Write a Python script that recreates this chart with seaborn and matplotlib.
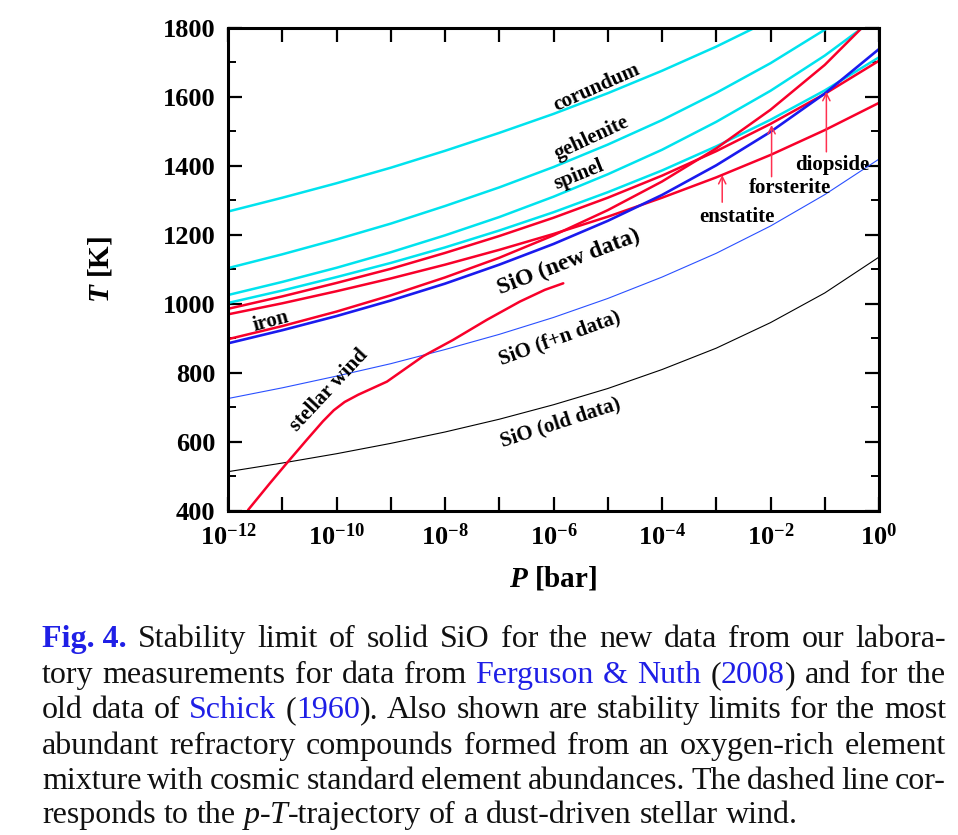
import re
import math
import matplotlib
matplotlib.use("Agg")
import matplotlib.pyplot as plt
import seaborn as sns
from matplotlib.ticker import FixedLocator, MultipleLocator, FuncFormatter, NullLocator

# ---- data ------------------------------------------------------------
# pressure grid, decades of P [bar]
log_p = [-12, -11, -10, -9, -8, -7, -6, -5, -4, -3, -2, -1, 0]

# stability limits T [K] at each decade
t_corundum = [1268, 1308, 1350, 1395, 1444, 1496, 1551, 1611, 1676, 1746, 1823, 1906, 1998]
t_gehlenite = [1104, 1144, 1187, 1233, 1284, 1338, 1397, 1462, 1533, 1612, 1698, 1795, 1903]
t_spinel = [1026, 1064, 1105, 1150, 1199, 1252, 1311, 1376, 1447, 1528, 1618, 1720, 1836]
t_diopside = [1003, 1039, 1078, 1119, 1164, 1213, 1266, 1324, 1387, 1457, 1534, 1619, 1715]
t_forsterite = [986, 1022, 1061, 1102, 1148, 1197, 1250, 1308, 1372, 1443, 1522, 1609, 1705]
t_enstatite = [970, 1002, 1037, 1074, 1114, 1157, 1203, 1253, 1308, 1367, 1432, 1504, 1583]
t_iron = [898, 936, 978, 1025, 1077, 1134, 1199, 1272, 1355, 1451, 1563, 1693, 1850]
t_sio_new = [886, 924, 965, 1010, 1059, 1114, 1174, 1241, 1316, 1402, 1499, 1610, 1739]
t_sio_fn = [726, 757, 791, 827, 868, 912, 961, 1016, 1078, 1147, 1226, 1317, 1420]
t_sio_old = [514, 539, 566, 596, 629, 666, 708, 755, 810, 872, 946, 1032, 1136]

# p-T trajectory of the stellar wind
wind_logp = [-11.63, -11.23, -10.92, -10.55, -10.25, -10.05, -9.85, -9.60, -9.07, -8.40, -7.85, -7.23, -6.62, -6.16, -5.82]
wind_t = [403, 480, 538, 606, 660, 692, 716, 737, 775, 849, 896, 954, 1007, 1041, 1060]

# arrows under the silicate labels: x (log P), tail T, head T
arrow_logp = [-2.89, -1.98, -0.97]
arrow_tail = [1295, 1369, 1441]
arrow_head = [1374, 1519, 1615]

caption_lines = [
    "[Fig.\u00a04.] Stability limit of solid SiO for the new data from our labora-",
    "tory measurements for data from [Ferguson & Nuth] ([2008]) and for the",
    "old data of [Schick] ([1960]). Also shown are stability limits for the most",
    "abundant refractory compounds formed from an oxygen-rich element",
    "mixture with cosmic standard element abundances. The dashed line cor-",
    "responds to the {p}-{T}-trajectory of a dust-driven stellar wind.",
]

# ---- style ------------------------------------------------------------
sns.set_theme(style="ticks")
plt.rcParams["font.family"] = ["Liberation Serif", "DejaVu Serif"]
plt.rcParams["font.weight"] = "bold"
plt.rcParams["mathtext.fontset"] = "custom"
plt.rcParams["mathtext.rm"] = "Liberation Serif:bold"
plt.rcParams["mathtext.bf"] = "Liberation Serif:bold"
plt.rcParams["mathtext.it"] = "Liberation Serif:italic:bold"
plt.rcParams["mathtext.bfit"] = "Liberation Serif:italic:bold"

CYAN = "#00e3ee"
RED = "#f8002a"
BLUE = "#1a1aee"
THIN_BLUE = "#2a50ff"
ARROW = "#ff3050"
LINK = "#1f1fe6"

W, H = 958, 835
fig = plt.figure(figsize=(W / 100, H / 100), dpi=100)
ax = fig.add_axes([228 / W, 1 - 511 / H, 651 / W, 483 / H])

P = [10.0 ** k for k in log_p]
curves = [
    (t_corundum, CYAN, 1.8),
    (t_gehlenite, CYAN, 1.8),
    (t_spinel, CYAN, 1.8),
    (t_diopside, CYAN, 1.8),
    (t_forsterite, RED, 1.8),
    (t_enstatite, RED, 1.8),
    (t_iron, RED, 1.8),
    (t_sio_new, BLUE, 1.9),
    (t_sio_fn, THIN_BLUE, 0.8),
    (t_sio_old, "black", 0.8),
]
for t, c, lw in curves:
    sns.lineplot(x=P, y=t, ax=ax, color=c, lw=lw, sort=False, estimator=None)

sns.lineplot(x=[10.0 ** k for k in wind_logp], y=wind_t, ax=ax, color=RED, lw=1.8,
             sort=False, estimator=None)

for lp, t0, t1 in zip(arrow_logp, arrow_tail, arrow_head):
    ax.annotate("", xy=(10.0 ** lp, t1), xytext=(10.0 ** lp, t0),
                arrowprops=dict(arrowstyle="->", color=ARROW, lw=1.1,
                                shrinkA=0, shrinkB=0, mutation_scale=13))

# curve labels
labels = [
    ("corundum", -5.20, 1626, 24, 15),
    ("gehlenite", -5.30, 1480, 25, 15),
    ("spinel", -5.54, 1374, 22, 15),
    ("diopside", -0.86, 1403, 0, 15),
    ("forsterite", -1.65, 1335, 0, 15),
    ("enstatite", -2.62, 1251, 0, 15),
    ("SiO (new data)", -5.71, 1122, 21, 17),
    ("SiO (f+n data)", -5.88, 901, 20, 15),
    ("SiO (old data)", -5.88, 655, 18, 15),
    ("iron", -11.20, 949, 15, 15),
    ("stellar wind", -10.14, 751, 47, 15),
]
for txt, lp, t, rot, fs in labels:
    ax.text(10.0 ** lp, t, txt, rotation=rot, fontsize=fs, ha="center", va="center",
            rotation_mode="anchor", color="black")


def p_label(v, pos):
    k = round(math.log10(v))
    return r"$\mathbf{10^{%d}}$" % k if k % 2 == 0 else ""


# axes
ax.set_xscale("log")
ax.set_xlim(1e-12, 1)
ax.set_ylim(400, 1800)
ax.xaxis.set_major_locator(FixedLocator(P))
ax.xaxis.set_minor_locator(NullLocator())
ax.xaxis.set_major_formatter(FuncFormatter(p_label))
ax.yaxis.set_major_locator(MultipleLocator(200))
ax.yaxis.set_minor_locator(MultipleLocator(100))
ax.tick_params(which="both", direction="in", top=True, right=True, colors="black",
               labelsize=19)
ax.tick_params(which="major", length=10, width=1.6, pad=9)
ax.tick_params(which="minor", length=6, width=1.4)
for s in ax.spines.values():
    s.set_linewidth(2.2)
    s.set_color("black")

ax.set_ylabel(r"$\mathbfit{T}$ [K]", fontsize=21, fontweight="bold", color="black")
ax.yaxis.set_label_coords(-0.175, 0.5)
ax.set_xlabel(r"$\mathbfit{P}$ [bar]", fontsize=21, fontweight="bold", color="black")
ax.xaxis.set_label_coords(0.5, -0.11)

# ---- caption, justified ------------------------------------------------
CAP_FS = 23
left_px, right_px = 42, 946
baselines = [647, 683, 718, 754, 789, 823]

fig.canvas.draw()
renderer = fig.canvas.get_renderer()


def parse(line):
    pieces = []
    for blue, ital, plain in re.findall(r"\[([^\]]*)\]|\{([^}]*)\}|([^\[\{]+)", line):
        if blue:
            pieces.append((blue, "blue"))
        elif ital:
            pieces.append((ital, "ital"))
        else:
            pieces.append((plain, "plain"))
    words = [[]]
    for text, kind in pieces:
        for i, part in enumerate(text.split(" ")):
            if i > 0:
                words.append([])
            if part:
                words[-1].append((part, kind))
    return [w for w in words if w]


probe = fig.text(0, 0, "a a", fontsize=CAP_FS, fontweight="normal")
probe2 = fig.text(0, 0, "aa", fontsize=CAP_FS, fontweight="normal")
space_px = probe.get_window_extent(renderer).width - probe2.get_window_extent(renderer).width
probe.remove()
probe2.remove()

for n, (line, base) in enumerate(zip(caption_lines, baselines)):
    words = parse(line)
    arts = []
    widths = []
    for w in words:
        wa = []
        for text, kind in w:
            kw = dict(fontsize=CAP_FS, fontweight="normal", color="#111111", va="baseline")
            if kind == "blue":
                kw["color"] = LINK
                if n == 0:
                    kw["fontweight"] = "bold"
            if kind == "ital":
                kw["style"] = "italic"
            t = fig.text(0, 1 - base / H, text, **kw)
            wa.append((t, t.get_window_extent(renderer).width))
        arts.append(wa)
        widths.append(sum(x[1] for x in wa))
    if n < len(caption_lines) - 1:
        gap = (right_px - left_px - sum(widths)) / (len(words) - 1)
    else:
        gap = space_px
    x = left_px
    for wa, ww in zip(arts, widths):
        xx = x
        for t, tw in wa:
            t.set_x(xx / W)
            xx += tw
        x += ww + gap

fig.savefig("out.png", dpi=100)
